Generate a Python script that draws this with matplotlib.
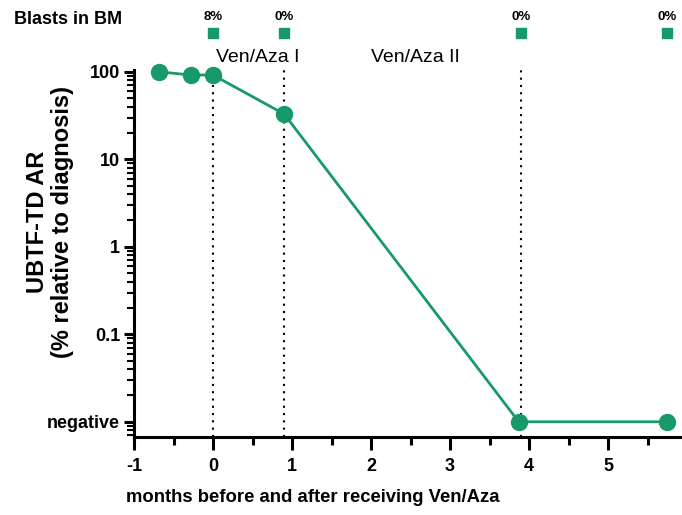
import matplotlib
matplotlib.use("Agg")
import matplotlib.pyplot as plt
from matplotlib.ticker import LogLocator, NullFormatter, MultipleLocator
import matplotlib.transforms as mtransforms

plt.rcParams['font.family'] = ['Liberation Sans', 'DejaVu Sans']
plt.rcParams['axes.unicode_minus'] = False

# data
months = [-0.68, -0.28, 0.0, 0.9, 3.87, 5.75]
ar_values = [100, 92, 92, 33, 0.01, 0.01]
treat_lines = [0.0, 0.9, 3.9]
treat_labels = ["Ven/Aza I", "Ven/Aza II"]
treat_label_x = [0.04, 2.0]
blast_x = [0.0, 0.9, 3.9, 5.75]
blast_pct = ["8%", "0%", "0%", "0%"]
ytick_vals = [0.01, 0.1, 1, 10, 100]
ytick_labels = ["negative", "0.1", "1", "10", "100"]

green = "#17996a"

fig = plt.figure(figsize=(6.82, 5.15), dpi=100)
ax = fig.add_axes([134/682, 1-437/515, 553/682, (437-70)/515])
ax.set_yscale('log')
ax.set_ylim(0.0067, 105)
ax.set_xlim(-1, 6)

for xv in treat_lines:
    ax.plot([xv, xv], [0.0067, 110], ls=(0, (1, 2.5)), color='black', lw=1.5, zorder=1, clip_on=False)

ax.plot(months, ar_values, color=green, lw=2, marker='o', ms=11.5, zorder=3, clip_on=False)

ax.set_yticks(ytick_vals)
ax.set_yticklabels(ytick_labels)
ax.yaxis.set_minor_locator(LogLocator(base=10, subs=range(2, 10), numticks=20))
ax.yaxis.set_minor_formatter(NullFormatter())
ax.xaxis.set_major_locator(MultipleLocator(1))
ax.xaxis.set_minor_locator(MultipleLocator(0.5))

for s in ['top', 'right']:
    ax.spines[s].set_visible(False)
for s in ['left', 'bottom']:
    ax.spines[s].set_linewidth(2.2)

ax.tick_params(axis='y', which='major', width=2.2, length=7, labelsize=13, pad=3)
ax.tick_params(axis='x', which='major', width=2.2, length=9, labelsize=13, pad=6)
ax.tick_params(axis='y', which='minor', width=1.5, length=5)
ax.tick_params(axis='x', which='minor', width=2.2, length=6)
for lab in ax.get_xticklabels() + ax.get_yticklabels():
    lab.set_fontweight('bold')

ax.set_xlabel("months before and after receiving Ven/Aza", fontsize=13.3, fontweight='bold')
ax.xaxis.set_label_coords((313 - 134) / 553, -(497 - 437) / (437 - 70))
ax.xaxis.label.set_va('center')
fig.text(50/682, 1 - 222/515, "UBTF-TD AR\n(% relative to diagnosis)", rotation=90,
         fontsize=17, fontweight='bold', ha='center', va='center', linespacing=1.15, multialignment='center')

# treatment labels
tt = mtransforms.blended_transform_factory(ax.transData, fig.transFigure)
for xv, lab in zip(treat_label_x, treat_labels):
    ax.text(xv, 1 - 57/515, lab, transform=tt, fontsize=14, ha='left', va='center')

# blasts
fig.text(14/682, 1 - 20/515, "Blasts in BM", fontsize=13, fontweight='bold', ha='left', va='center')
ax.scatter(blast_x, [1 - 33/515]*len(blast_x), marker='s', s=55, color=green, transform=tt, clip_on=False)
for xv, p in zip(blast_x, blast_pct):
    ax.text(xv, 1 - 17/515, p, transform=tt, fontsize=9.5, fontweight='bold', ha='center', va='center')

fig.savefig("out.png", dpi=100)
